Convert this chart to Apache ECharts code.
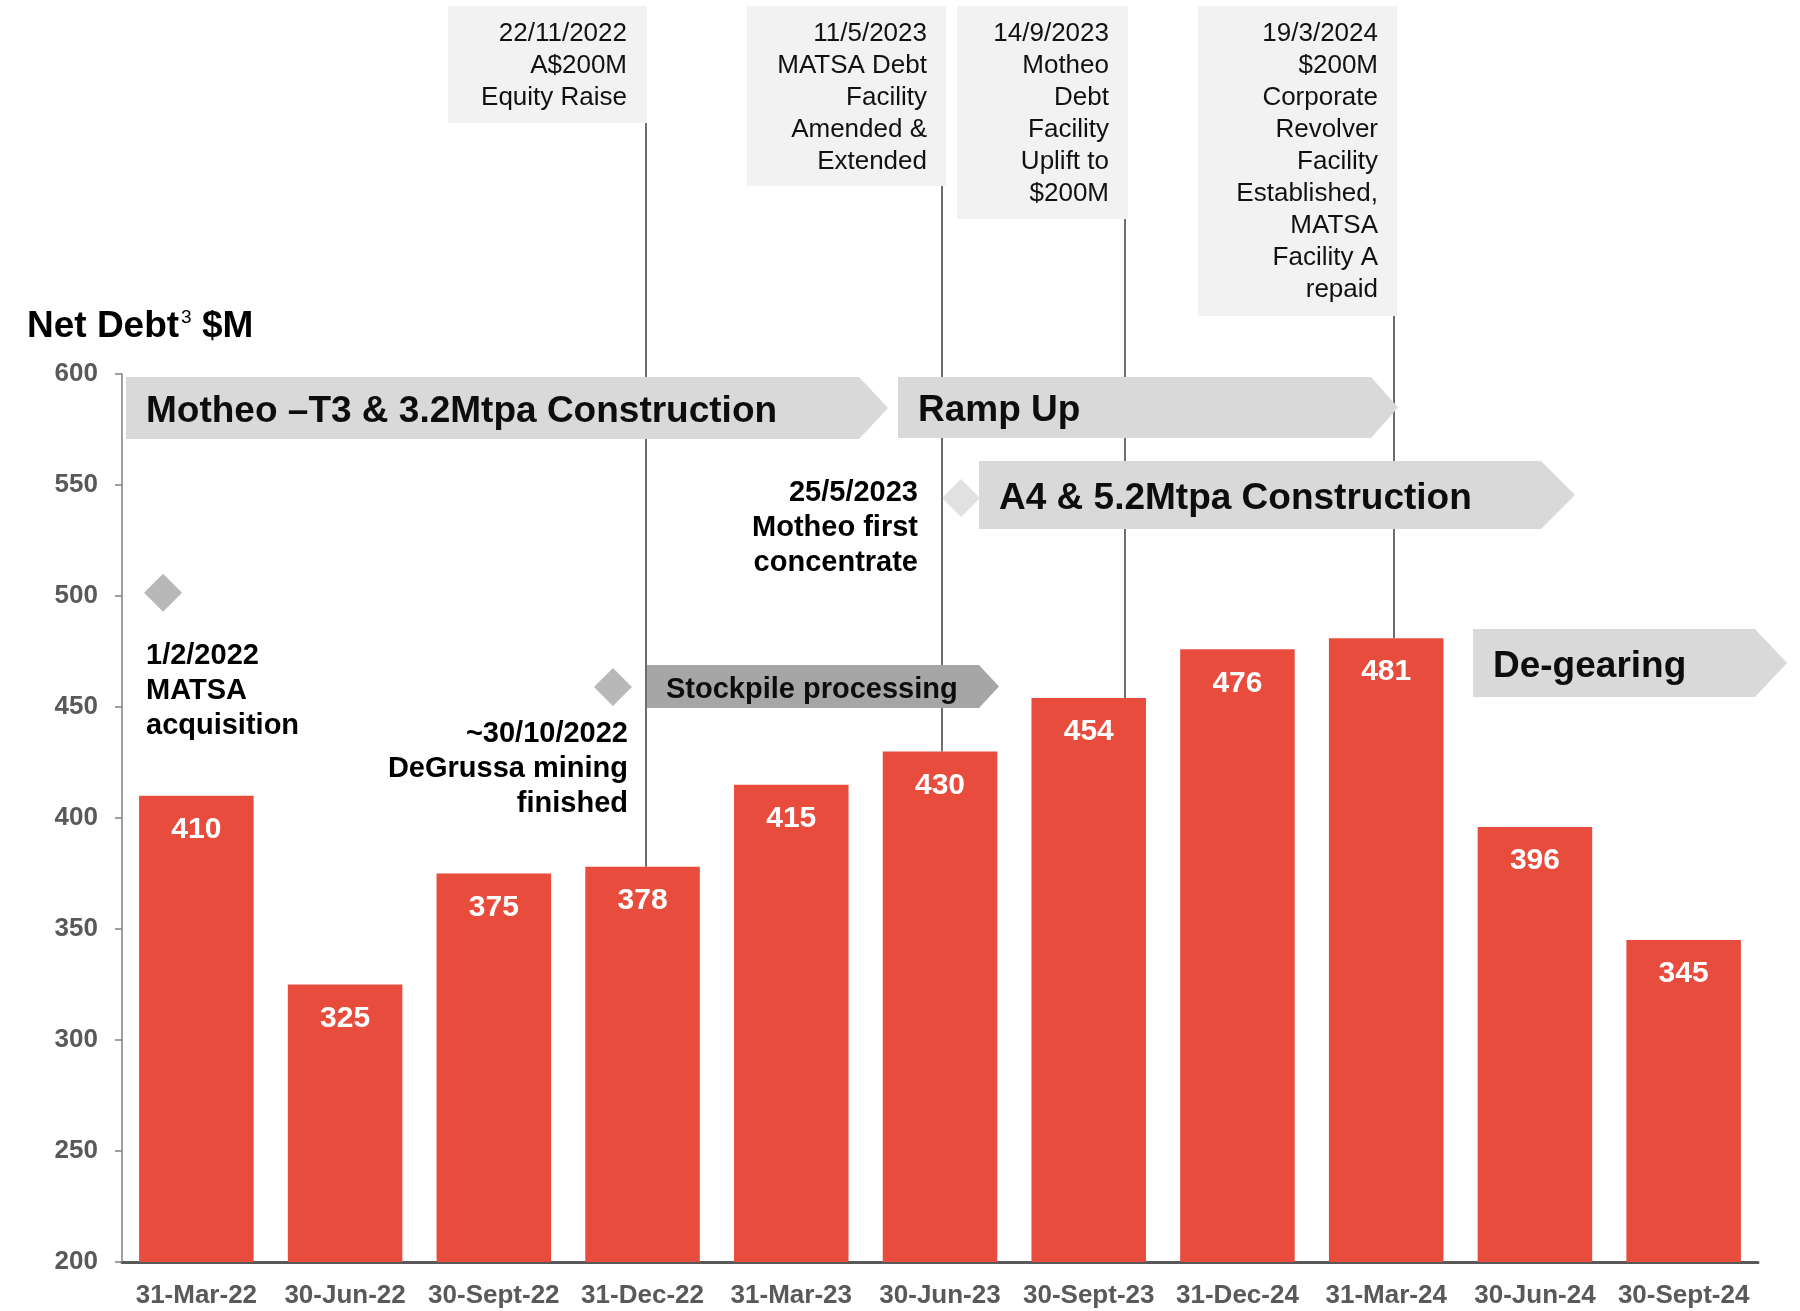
<!DOCTYPE html>
<html>
<head>
<meta charset="utf-8">
<script src="https://cdn.jsdelivr.net/npm/echarts@6/dist/echarts.min.js"></script>
<style>
  html, body { margin: 0; padding: 0; background: #ffffff; }
  #chart { width: 1800px; height: 1311px; }
</style>
</head>
<body>
<div id="chart"></div>
<script>
// ---- data ----
const categories = ['31-Mar-22', '30-Jun-22', '30-Sept-22', '31-Dec-22', '31-Mar-23', '30-Jun-23',
  '30-Sept-23', '31-Dec-24', '31-Mar-24', '30-Jun-24', '30-Sept-24'];
const netDebt = [410, 325, 375, 378, 415, 430, 454, 476, 481, 396, 345];
const yMin = 200;
const yMax = 600;
const yStep = 50;
const titleMain = 'Net Debt';
const titleNote = '3';
const titleUnit = '$M';

// financing milestones: box text and the quarter bar its leader line drops to
const financingNotes = [
  ['22/11/2022', 'A$200M', 'Equity Raise'],
  ['11/5/2023', 'MATSA Debt', 'Facility', 'Amended &', 'Extended'],
  ['14/9/2023', 'Motheo', 'Debt', 'Facility', 'Uplift to', '$200M'],
  ['19/3/2024', '$200M', 'Corporate', 'Revolver', 'Facility', 'Established,', 'MATSA', 'Facility A', 'repaid']
];
const financingBar = [3, 5, 6, 8];

// project phases
const phaseNames = ['Motheo \u2013T3 & 3.2Mtpa Construction', 'Ramp Up', 'A4 & 5.2Mtpa Construction',
  'De-gearing', 'Stockpile processing'];

// operational events
const eventNotes = [
  ['1/2/2022', 'MATSA', 'acquisition'],
  ['~30/10/2022', 'DeGrussa mining', 'finished'],
  ['25/5/2023', 'Motheo first', 'concentrate']
];

// ---- layout ----
const FONT = '"Liberation Sans", Arial, Helvetica, sans-serif';
const GRID = { left: 122, right: 42, top: 374, bottom: 49 };
const BAR_RED = '#E84C3D';
const AXIS_GREY = '#595959';

// event diamonds, in (quarter index, $M level) units of the plot
const markerAt = [[-0.224, 501.5], [2.801, 459], [5.141, 544.2]];
const markerFill = ['#A6A6A6', '#A6A6A6', '#D9D9D9'];

const noteBoxes = [
  { x: 448, y: 6, w: 199, h: 117, textRight: 627, lineX: 646 },
  { x: 747, y: 6, w: 199, h: 180, textRight: 927, lineX: 942 },
  { x: 957, y: 6, w: 171, h: 213, textRight: 1109, lineX: 1125 },
  { x: 1198, y: 6, w: 199, h: 310, textRight: 1378, lineX: 1394 }
];

const phaseShapes = [
  { x0: 126, x1: 859, tip: 888, y0: 377, y1: 439, tx: 146, size: 37, fill: '#D9D9D9' },
  { x0: 898, x1: 1371, tip: 1398, y0: 377, y1: 438, tx: 918, size: 37, fill: '#D9D9D9' },
  { x0: 979, x1: 1541, tip: 1575, y0: 461, y1: 529, tx: 999, size: 37, fill: '#D9D9D9' },
  { x0: 1473, x1: 1755, tip: 1787, y0: 629, y1: 697, tx: 1493, size: 37, fill: '#D9D9D9' },
  { x0: 647, x1: 979, tip: 999, y0: 665, y1: 708, tx: 666, size: 29, fill: '#A6A6A6' }
];

const eventTextAt = [
  { x: 146, y: 638, align: 'left' },
  { x: 628, y: 716, align: 'right' },
  { x: 918, y: 475, align: 'right' }
];

const chart = echarts.init(document.getElementById('chart'), null, { renderer: 'canvas' });

chart.setOption({
  animation: false,
  backgroundColor: '#ffffff',
  grid: GRID,
  xAxis: [
    {
      type: 'category',
      data: categories,
      axisLine: { lineStyle: { color: AXIS_GREY, width: 3 } },
      axisTick: { show: false },
      axisLabel: {
        color: AXIS_GREY, fontFamily: FONT, fontSize: 26, fontWeight: 'bold',
        margin: 21, interval: 0
      },
      splitLine: { show: false }
    },
    {
      type: 'value', min: -0.5, max: 10.5, show: false
    }
  ],
  yAxis: {
    type: 'value',
    min: yMin,
    max: yMax,
    interval: yStep,
    axisLine: { show: true, onZero: false, lineStyle: { color: '#808080', width: 1.5 } },
    axisTick: { show: true, length: 7, lineStyle: { color: '#808080', width: 1.5 } },
    axisLabel: { color: AXIS_GREY, fontFamily: FONT, fontSize: 26, fontWeight: 'bold', margin: 24 },
    splitLine: { show: false }
  },
  series: [
    {
      type: 'bar',
      data: netDebt,
      barCategoryGap: '23%',
      itemStyle: { color: BAR_RED },
      label: {
        show: true, position: 'insideTop', distance: 19,
        color: '#ffffff', fontFamily: FONT, fontSize: 30, fontWeight: 'bold'
      },
      z: 2
    },
    {
      type: 'scatter',
      xAxisIndex: 1,
      symbol: 'diamond',
      symbolSize: [38, 38],
      data: markerAt.map((p, i) => ({ value: p, itemStyle: { color: markerFill[i] } })),
      z: 3
    }
  ]
});

// ---- annotations ----
const graphics = [];

// axis title with footnote marker
graphics.push({
  type: 'text', x: 27, y: 327, z: 10,
  style: { text: titleMain, fontFamily: FONT, fontSize: 37, fontWeight: 'bold', fill: '#000000',
    align: 'left', verticalAlign: 'middle' }
});
graphics.push({
  type: 'text', x: 181, y: 318, z: 10,
  style: { text: titleNote, fontFamily: FONT, fontSize: 19, fill: '#000000',
    align: 'left', verticalAlign: 'middle' }
});
graphics.push({
  type: 'text', x: 202, y: 327, z: 10,
  style: { text: titleUnit, fontFamily: FONT, fontSize: 37, fontWeight: 'bold', fill: '#000000',
    align: 'left', verticalAlign: 'middle' }
});

// leader lines from the note boxes down to the bar tops
noteBoxes.forEach((b, i) => {
  const barTop = chart.convertToPixel({ yAxisIndex: 0 }, netDebt[financingBar[i]]);
  graphics.push({
    type: 'line', z: 5,
    shape: { x1: b.lineX, y1: b.y + b.h, x2: b.lineX, y2: barTop },
    style: { stroke: '#6E6E6E', lineWidth: 2 }
  });
});

// note boxes
noteBoxes.forEach((b, i) => {
  graphics.push({
    type: 'rect', z: 6,
    shape: { x: b.x, y: b.y, width: b.w, height: b.h },
    style: { fill: '#F2F2F2' }
  });
  graphics.push({
    type: 'text', x: b.textRight, y: b.y + 12, z: 7,
    style: { text: financingNotes[i].join('\n'), fontFamily: FONT, fontSize: 26, fill: '#111111',
      align: 'right', verticalAlign: 'top', lineHeight: 32 }
  });
});

// phase chevrons
phaseShapes.forEach((p, i) => {
  const ym = (p.y0 + p.y1) / 2;
  graphics.push({
    type: 'polygon', z: 8,
    shape: { points: [[p.x0, p.y0], [p.x1, p.y0], [p.tip, ym], [p.x1, p.y1], [p.x0, p.y1]] },
    style: { fill: p.fill }
  });
  graphics.push({
    type: 'text', x: p.tx, y: ym + 3.5, z: 9,
    style: { text: phaseNames[i], fontFamily: FONT, fontSize: p.size, fontWeight: 'bold', fill: '#0D0D0D',
      align: 'left', verticalAlign: 'middle' }
  });
});

// event captions
eventTextAt.forEach((t, i) => {
  graphics.push({
    type: 'text', x: t.x, y: t.y, z: 9,
    style: { text: eventNotes[i].join('\n'), fontFamily: FONT, fontSize: 29, fontWeight: 'bold', fill: '#000000',
      align: t.align, verticalAlign: 'top', lineHeight: 35 }
  });
});

chart.setOption({ graphic: graphics });
</script>
</body>
</html>
